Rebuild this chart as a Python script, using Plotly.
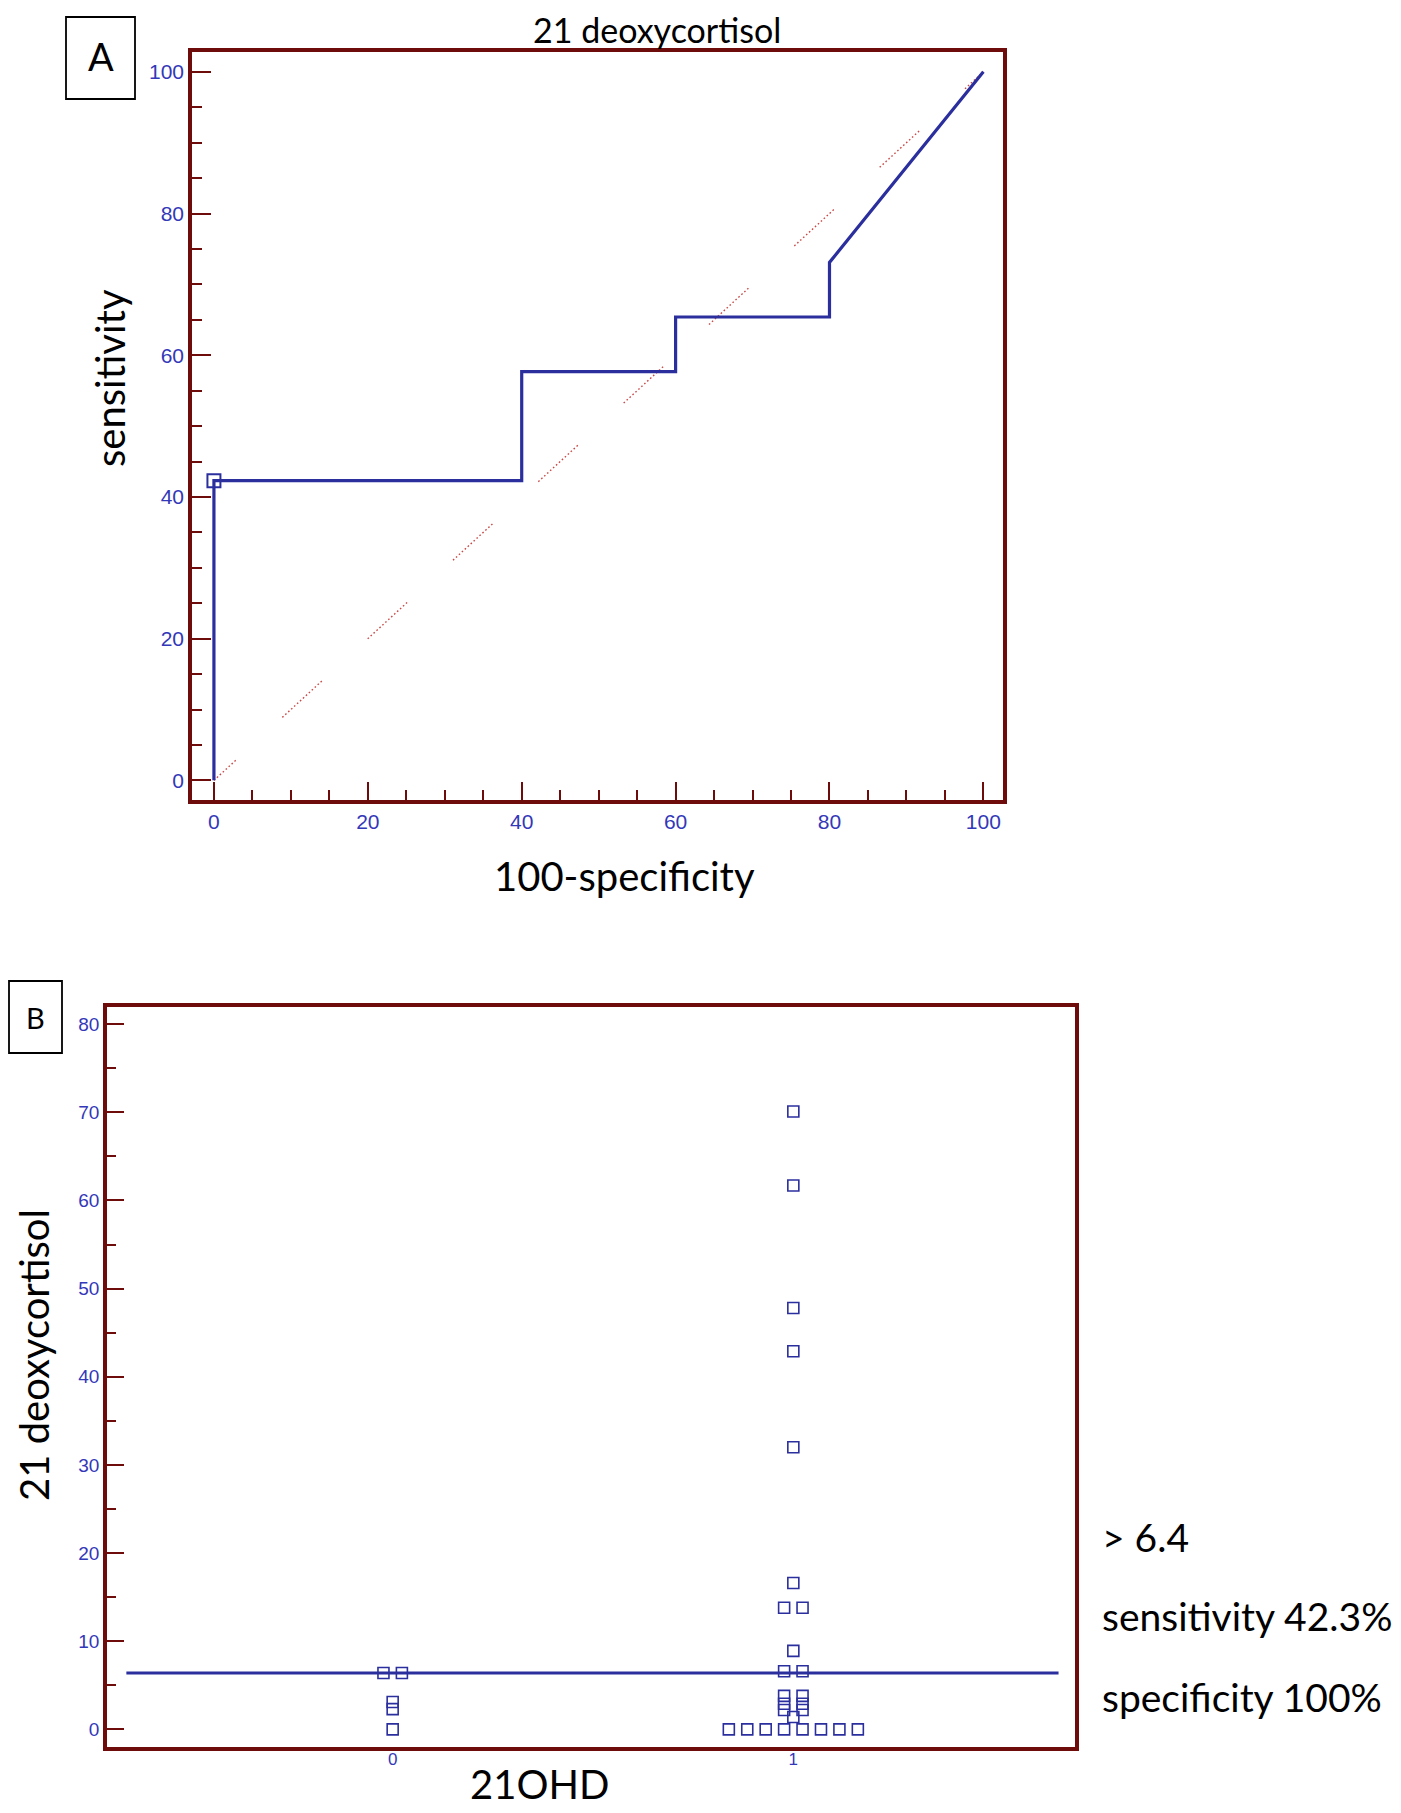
import plotly.graph_objects as go

# ---------------- data ----------------
# Panel A: ROC curve (100-specificity vs sensitivity)
roc_fpr = [0, 0, 40, 40, 60, 60, 80, 80, 100]
roc_tpr = [0, 42.3, 42.3, 57.7, 57.7, 65.4, 65.4, 73.1, 100]
op_fpr = [0]          # optimal criterion point
op_tpr = [42.3]
diag_line = [0, 100]
roc_ticks = [0, 20, 40, 60, 80, 100]

# Panel B: dot plot of 21 deoxycortisol by 21OHD status
group_labels = ["0", "1"]
group_pos = [0, 1]
group0_vals = [6.4, 6.4, 3.1, 2.3, 0]
group1_vals = [70.1, 61.7, 47.8, 42.9, 32.0, 16.6, 13.8, 13.8, 8.9, 6.6, 6.6,
               3.8, 3.8, 2.9, 2.9, 2.2, 2.2, 1.4, 0, 0, 0, 0, 0, 0, 0, 0]
criterion = 6.4
b_ticks = [0, 10, 20, 30, 40, 50, 60, 70, 80]
info_lines = ["> 6.4", "sensitivity 42.3%", "specificity 100%"]

# ---------------- styles ----------------
OFF = 8                      # page body margin
W, H = 1401 - OFF, 1813 - OFF
FRAME = "#6E0B0B"
BLUE = "#2B2F9E"
TICKBLUE = "#3338B8"
DIAG = "#C84A48"
TXT_FONT = "Lato"
NUM_FONT = "Liberation Sans"
STEP = 0.046


def px(x):
    return (x - OFF) / W


def py(y):
    return 1 - (y - OFF) / H


def spread(vals, center):
    xs = []
    counts = {}
    for v in vals:
        counts[v] = counts.get(v, 0) + 1
    seen = {}
    for v in vals:
        n = counts[v]
        i = seen.get(v, 0)
        seen[v] = i + 1
        xs.append(center + (i - (n - 1) / 2) * STEP)
    return xs


def dotted_dashes(first, rest, gap_first, gap, n):
    seq = []
    for k in range(n):
        length = first if k == 0 else rest
        g = gap_first if k == 0 else gap
        pairs = int(length // 4)
        for j in range(pairs):
            seq.append("1.6px")
            seq.append("%.1fpx" % (2.4 if j < pairs - 1 else 2.4 + g))
    return ",".join(seq)


fig = go.Figure()

# diagonal reference line (dotted dashes, red)
fig.add_trace(go.Scatter(x=diag_line, y=diag_line, mode="lines",
                         line=dict(color=DIAG, width=1.4,
                                   dash=dotted_dashes(32, 56, 61, 60, 10)),
                         xaxis="x", yaxis="y", showlegend=False, hoverinfo="skip"))
# ROC curve
fig.add_trace(go.Scatter(x=roc_fpr, y=roc_tpr, mode="lines",
                         line=dict(color=BLUE, width=3.2),
                         xaxis="x", yaxis="y", showlegend=False))
fig.add_trace(go.Scatter(x=op_fpr, y=op_tpr, mode="markers",
                         marker=dict(symbol="square-open", size=13, color=BLUE,
                                     line=dict(width=2, color=BLUE)),
                         xaxis="x", yaxis="y", showlegend=False))

# Panel B points
for vals, pos in zip([group0_vals, group1_vals], group_pos):
    fig.add_trace(go.Scatter(x=spread(vals, pos), y=vals, mode="markers",
                             marker=dict(symbol="square-open", size=11, color=BLUE,
                                         line=dict(width=1.6, color=BLUE)),
                             xaxis="x2", yaxis="y2", showlegend=False))

axis_common = dict(showline=True, linecolor=FRAME, linewidth=3.5, mirror=True,
                   showgrid=False, zeroline=False, ticks="inside",
                   tickcolor=FRAME, tickwidth=1.6)

fig.update_layout(
    width=W, height=H, margin=dict(l=0, r=0, t=0, b=0),
    paper_bgcolor="white", plot_bgcolor="white",
    xaxis=dict(domain=[px(192), px(1003)], range=[-2.85, 102.55], anchor="y",
               tickvals=roc_ticks, ticklen=18,
               minor=dict(dtick=5, tick0=0, ticks="inside", ticklen=10,
                          tickcolor=FRAME, tickwidth=1.6),
               tickfont=dict(family=NUM_FONT, size=21, color=TICKBLUE),
               **axis_common),
    yaxis=dict(domain=[py(800), py(52)], range=[-2.77, 102.8], anchor="x",
               tickvals=roc_ticks, ticklen=19,
               minor=dict(dtick=5, tick0=0, ticks="inside", ticklen=10,
                          tickcolor=FRAME, tickwidth=1.6),
               tickfont=dict(family=NUM_FONT, size=21, color=TICKBLUE),
               **axis_common),
    xaxis2=dict(domain=[px(107), px(1075)], range=[-0.713, 1.703], anchor="y2",
                tickvals=group_pos, ticktext=group_labels, ticklen=0,
                ticklabelstandoff=-6,
                tickfont=dict(family=NUM_FONT, size=17, color=TICKBLUE),
                **{k: v for k, v in axis_common.items() if k != "ticks"}),
    yaxis2=dict(domain=[py(1747), py(1007)], range=[-2.0, 81.95], anchor="x2",
                tickvals=b_ticks, ticklen=17,
                minor=dict(dtick=5, tick0=0, ticks="inside", ticklen=9,
                           tickcolor=FRAME, tickwidth=1.6),
                tickfont=dict(family=NUM_FONT, size=19, color=TICKBLUE),
                **axis_common),
)

# threshold line in panel B
fig.add_shape(type="line", xref="x2 domain", yref="y2", x0=0.02, x1=0.983,
              y0=criterion, y1=criterion, line=dict(color=BLUE, width=3))

# panel label boxes
fig.add_shape(type="rect", xref="paper", yref="paper", x0=px(66), x1=px(135),
              y0=py(99), y1=py(17), line=dict(color="black", width=1.8))
fig.add_shape(type="rect", xref="paper", yref="paper", x0=px(9), x1=px(62),
              y0=py(1053), y1=py(981), line=dict(color="black", width=1.8))

ann = []


def text(t, x, y, size, angle=0, xanchor="center", font=TXT_FONT):
    ann.append(dict(text=t, x=px(x), y=py(y), xref="paper", yref="paper",
                    showarrow=False, textangle=angle, xanchor=xanchor,
                    yanchor="middle", font=dict(family=font, size=size, color="black")))


text("A", 101, 56, 38)
text("B", 35, 1017, 29)
text("21 deoxycortisol", 657, 30, 34)
text("100-specificity", 624, 876, 40)
text("sensitivity", 110, 378, 40, angle=-90)
text("21 deoxycortisol", 34, 1355, 40, angle=-90)
text("21OHD", 539, 1784, 40)
for line_txt, yy in zip(info_lines, [1537, 1616, 1697]):
    text(line_txt, 1100, yy, 39, xanchor="left")

fig.update_layout(annotations=ann)

fig.write_html("out.html")
